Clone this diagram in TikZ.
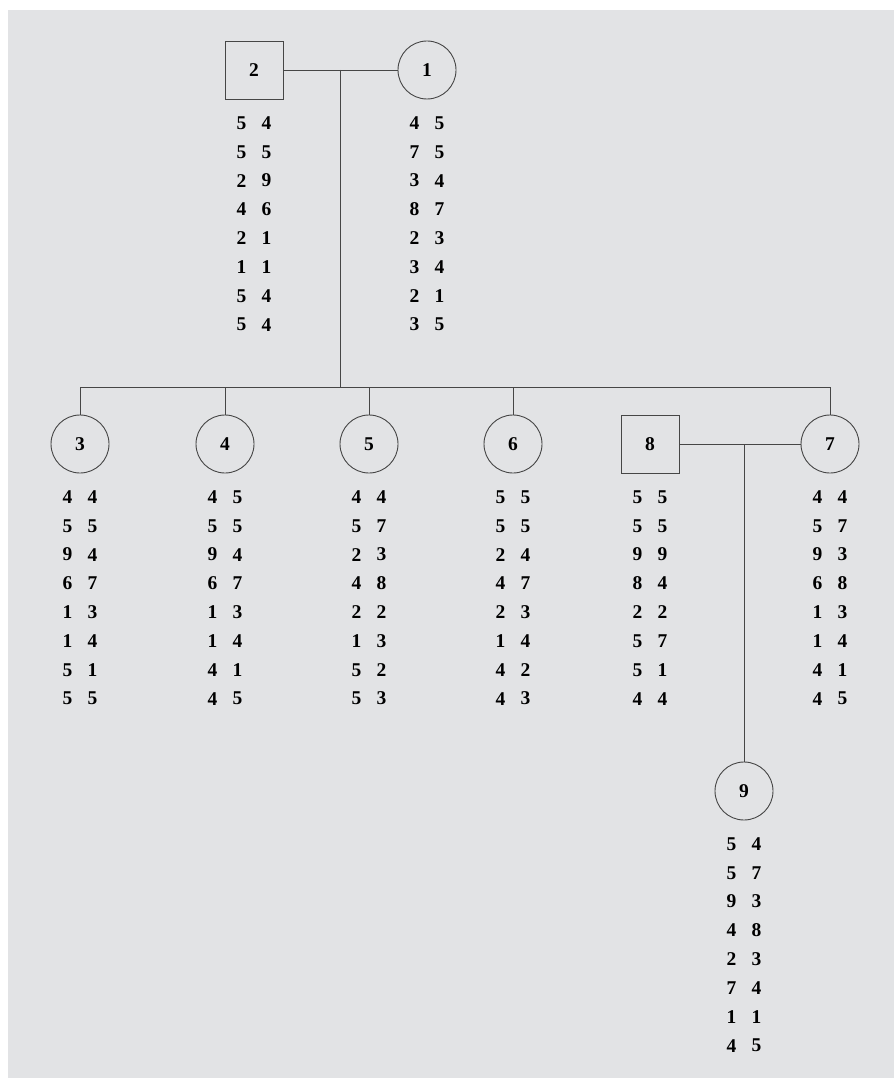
\documentclass[tikz,border=0pt]{standalone}
\usepackage{fontspec}
\setmainfont{Liberation Serif}
\usetikzlibrary{calc}

\definecolor{bggray}{RGB}{226,227,229}
\definecolor{linegray}{RGB}{70,70,70}

\tikzset{
    female/.style={circle, draw=linegray, line width=0.9pt, minimum size=58pt, inner sep=0pt, font=\fontsize{19.5}{23}\selectfont\bfseries},
    male/.style={rectangle, draw=linegray, line width=0.9pt, minimum size=58pt, inner sep=0pt, font=\fontsize{19.5}{23}\selectfont\bfseries},
    allele/.style={inner sep=0pt, font=\fontsize{19.5}{23}\selectfont\bfseries},
    link/.style={draw=linegray, line width=0.9pt}
}

% two marker columns below a person
\newcommand{\alleles}[2]{%
    \foreach \a/\b [count=\i from 0] in {#2} {
        \node[allele] (#1-a\i) at ($(#1)+(-12.5,53+28.8*\i)$) {\a};
        \node[allele] (#1-b\i) at ($(#1)+(12.5,53+28.8*\i)$) {\b};
    }}

\begin{document}
\begin{tikzpicture}[x=1pt, y=-1pt]
        % Background
        \useasboundingbox (0,0) rectangle (894,1078);
        \fill[bggray] (8,10) rectangle (894,1078);

        % Parents
        \node[male] (p2) at (254,70) {2};
        \node[female] (p1) at (427,70) {1};
        \draw[link] (p2) -- (p1);
        \coordinate (m1) at ($(p2.east)!0.5!(p1.west)$);
        \coordinate (sib) at ($(m1)+(0,317)$);
        \draw[link] (m1) -- (sib);

        % Children
        \node[female] (c3) at (80,444) {3};
        \node[female] (c4) at (225,444) {4};
        \node[female] (c5) at (369,444) {5};
        \node[female] (c6) at (513,444) {6};
        \node[female] (c7) at (830,444) {7};
        \node[male] (s8) at (650,444) {8};

        \draw[link] (c3.north |- sib) -- (c7.north |- sib);
        \foreach \c in {c3,c4,c5,c6,c7}
            \draw[link] (\c.north) -- (\c.north |- sib);

        % Grandchild
        \node[female] (g9) at (744,791) {9};
        \draw[link] (s8) -- (c7);
        \coordinate (m2) at (g9 |- s8.east);
        \draw[link] (m2) -- (g9);

        % Marker data
        \alleles{p2}{5/4, 5/5, 2/9, 4/6, 2/1, 1/1, 5/4, 5/4}
        \alleles{p1}{4/5, 7/5, 3/4, 8/7, 2/3, 3/4, 2/1, 3/5}
        \alleles{c3}{4/4, 5/5, 9/4, 6/7, 1/3, 1/4, 5/1, 5/5}
        \alleles{c4}{4/5, 5/5, 9/4, 6/7, 1/3, 1/4, 4/1, 4/5}
        \alleles{c5}{4/4, 5/7, 2/3, 4/8, 2/2, 1/3, 5/2, 5/3}
        \alleles{c6}{5/5, 5/5, 2/4, 4/7, 2/3, 1/4, 4/2, 4/3}
        \alleles{s8}{5/5, 5/5, 9/9, 8/4, 2/2, 5/7, 5/1, 4/4}
        \alleles{c7}{4/4, 5/7, 9/3, 6/8, 1/3, 1/4, 4/1, 4/5}
        \alleles{g9}{5/4, 5/7, 9/3, 4/8, 2/3, 7/4, 1/1, 4/5}

\end{tikzpicture}
\end{document}
